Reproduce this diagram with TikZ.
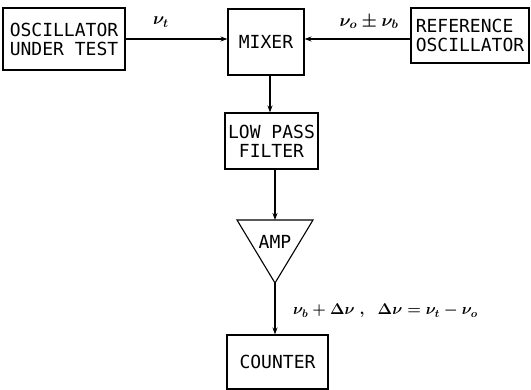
\RequirePackage{fix-cm}
\documentclass[tikz,border=0pt]{standalone}
\usepackage{fontspec}
\newfontfamily\lettering{DejaVu Sans Mono}
\usetikzlibrary{arrows.meta}
\begin{document}
\begin{tikzpicture}[x=1pt,y=-1pt,
  blk/.style={draw, line width=1.1pt, inner sep=0pt, font=\lettering\fontsize{18}{19}\selectfont, align=center},
  conn/.style={line width=1.1pt, -{Stealth[length=7pt,width=5pt]}},
  lbl/.style={font=\fontsize{17.3}{20}\selectfont\boldmath, inner sep=0pt}]
\useasboundingbox (0,0) rectangle (531,390);
\node[blk, minimum width=122pt, minimum height=62pt] (out) at (64,39) {OSCILLATOR\\UNDER TEST};
\node[blk, minimum width=76pt, minimum height=66pt] (mix) at (266,42) {MIXER};
\node[blk, minimum width=118pt, minimum height=55pt, align=left] (ref) at (470,35.5) {REFERENCE\\OSCILLATOR};
\node[blk, minimum width=93pt, minimum height=56pt] (lpf) at (271.5,141) {LOW PASS\\FILTER};
\coordinate (ampL) at (237,220);
\coordinate (ampR) at (313,220);
\coordinate (ampB) at (275,283);
\coordinate (ampT) at (275,220);
\coordinate (mixc) at (270,0);
\draw[line width=1.1pt, line join=miter] (ampL) -- (ampR) -- (ampB) -- cycle;
\node[font=\lettering\fontsize{18}{19}\selectfont, inner sep=0pt] (amp) at (275,242) {AMP};
\node[blk, minimum width=101pt, minimum height=54pt] (cnt) at (277.5,362) {COUNTER};
\draw[conn] (out.east) -- (mix.west |- out.east);
\draw[conn] (ref.west |- out.east) -- (mix.east |- out.east);
\draw[conn] (mix.south -| mixc) -- (lpf.north -| mixc);
\draw[conn] (lpf.south -| ampT) -- (ampT);
\draw[conn] (ampB) -- (cnt.north -| ampB);
\node[lbl] (lt) at (161,22) {$\nu_t$};
\node[lbl] (lo) at (369,22) {$\nu_o \pm \nu_b$};
\node[lbl, font=\fontsize{15.6}{20}\selectfont\boldmath, anchor=west] (lb) at (293,311) {$\nu_b+\Delta\nu\;,\;\;\Delta\nu=\nu_t-\nu_o$};
\end{tikzpicture}
\end{document}
